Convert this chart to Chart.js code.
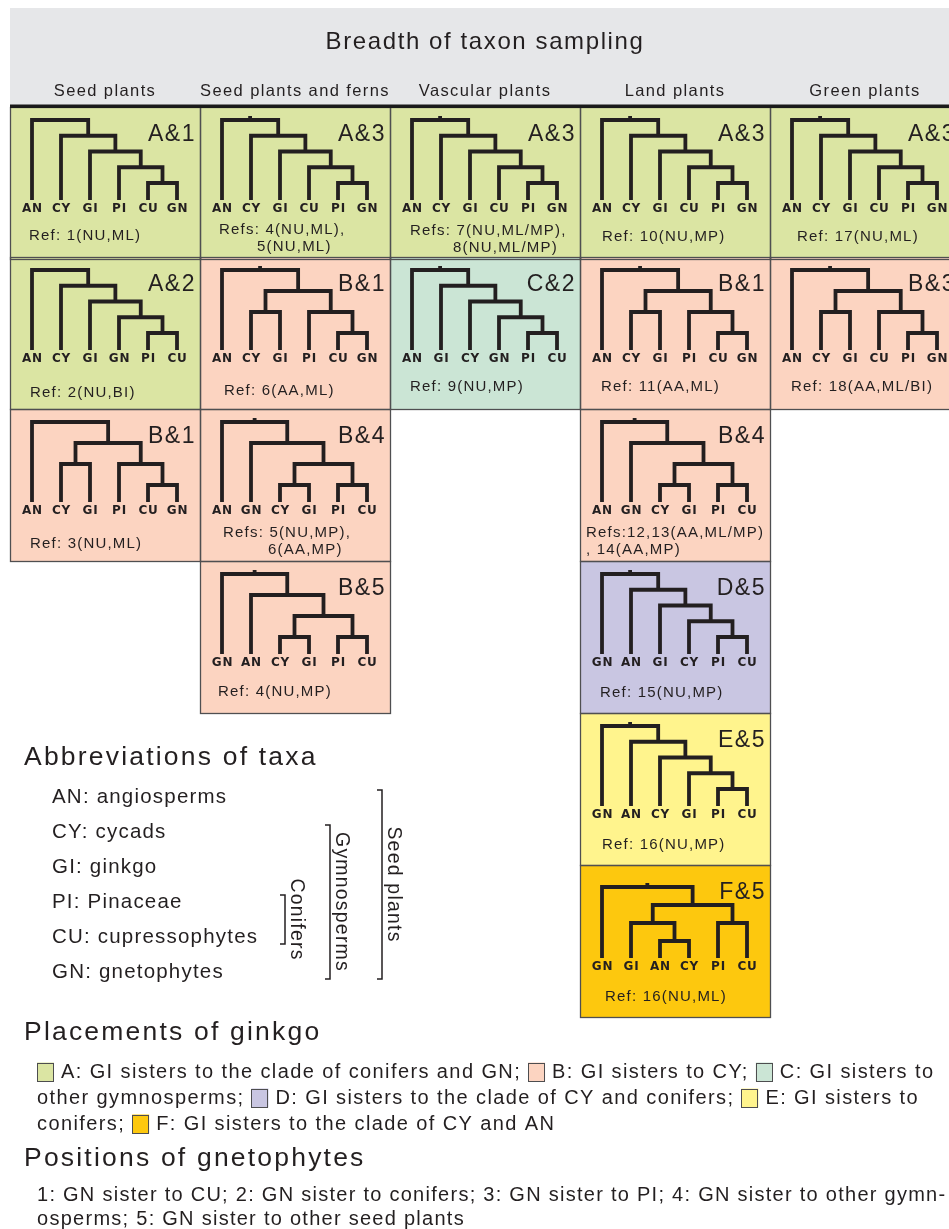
<!DOCTYPE html>
<html>
<head>
<meta charset="utf-8">
<script src="https://cdn.jsdelivr.net/npm/chart.js@4"></script>
<style>
  body { margin: 0; background: #fff; }
  canvas { display: block; }
</style>
</head>
<body>
<canvas id="chart" width="949" height="1229"></canvas>
<script>
// Data
const columns = ['Seed plants', 'Seed plants and ferns', 'Vascular plants', 'Land plants', 'Green plants'];

const taxa = ['AN', 'CY', 'GI', 'PI', 'CU', 'GN'];
const taxonNames = ['angiosperms', 'cycads', 'ginkgo', 'Pinaceae', 'cupressophytes', 'gnetophytes'];
const groupNames = ['Conifers', 'Gymnosperms', 'Seed plants'];
const groupFrom = [3, 1, 0];
const groupTo = [4, 5, 5];

const placementLetters = ['A', 'B', 'C', 'D', 'E', 'F'];
const placementTexts = [
  'GI sisters to the clade of conifers and GN;',
  'GI sisters to CY;',
  'GI sisters to other gymnosperms;',
  'GI sisters to the clade of CY and conifers;',
  'GI sisters to conifers;',
  'GI sisters to the clade of CY and AN'
];
const gnPositionLines = [
  '1: GN sister to CU; 2: GN sister to conifers; 3: GN sister to PI; 4: GN sister to other gymn-',
  'osperms; 5: GN sister to other seed plants'
];

// one entry per tree cell
const cellCol = [0, 0, 0, 1, 1, 1, 1, 2, 2, 3, 3, 3, 3, 3, 3, 4, 4];
const cellRow = [0, 1, 2, 0, 1, 2, 3, 0, 1, 0, 1, 2, 3, 4, 5, 0, 1];
const cellCodes = ['A&1', 'A&2', 'B&1', 'A&3', 'B&1', 'B&4', 'B&5', 'A&3', 'C&2',
                   'A&3', 'B&1', 'B&4', 'D&5', 'E&5', 'F&5', 'A&3', 'B&3'];
const cellTrees = [
  ['AN', ['CY', ['GI', ['PI', ['CU', 'GN']]]]],
  ['AN', ['CY', ['GI', ['GN', ['PI', 'CU']]]]],
  ['AN', [['CY', 'GI'], ['PI', ['CU', 'GN']]]],
  ['AN', ['CY', ['GI', ['CU', ['PI', 'GN']]]]],
  ['AN', [['CY', 'GI'], ['PI', ['CU', 'GN']]]],
  ['AN', ['GN', [['CY', 'GI'], ['PI', 'CU']]]],
  ['GN', ['AN', [['CY', 'GI'], ['PI', 'CU']]]],
  ['AN', ['CY', ['GI', ['CU', ['PI', 'GN']]]]],
  ['AN', ['GI', ['CY', ['GN', ['PI', 'CU']]]]],
  ['AN', ['CY', ['GI', ['CU', ['PI', 'GN']]]]],
  ['AN', [['CY', 'GI'], ['PI', ['CU', 'GN']]]],
  ['AN', ['GN', [['CY', 'GI'], ['PI', 'CU']]]],
  ['GN', ['AN', ['GI', ['CY', ['PI', 'CU']]]]],
  ['GN', ['AN', ['CY', ['GI', ['PI', 'CU']]]]],
  ['GN', [['GI', ['AN', 'CY']], ['PI', 'CU']]],
  ['AN', ['CY', ['GI', ['CU', ['PI', 'GN']]]]],
  ['AN', [['CY', 'GI'], ['CU', ['PI', 'GN']]]]
];
const cellRefs = [
  ['Ref: 1(NU,ML)'],
  ['Ref: 2(NU,BI)'],
  ['Ref: 3(NU,ML)'],
  ['Refs: 4(NU,ML),', '5(NU,ML)'],
  ['Ref: 6(AA,ML)'],
  ['Refs: 5(NU,MP),', '6(AA,MP)'],
  ['Ref: 4(NU,MP)'],
  ['Refs: 7(NU,ML/MP),', '8(NU,ML/MP)'],
  ['Ref: 9(NU,MP)'],
  ['Ref: 10(NU,MP)'],
  ['Ref: 11(AA,ML)'],
  ['Refs:12,13(AA,ML/MP)', ', 14(AA,MP)'],
  ['Ref: 15(NU,MP)'],
  ['Ref: 16(NU,MP)'],
  ['Ref: 16(NU,ML)'],
  ['Ref: 17(NU,ML)'],
  ['Ref: 18(AA,ML/BI)']
];

// layout / style
const placementColors = ['#dbe5a3', '#fcd4c1', '#cbe5d5', '#c9c6e2', '#fff48d', '#fdc80e'];
const colLeft = [10, 200, 390, 580, 770];
const rowTop = [107, 257, 409, 561, 713, 865];
const cellW = 190, cellH = 152;
const refX = [29, 30, 30, 219, 224, 223, 218, 410, 410, 602, 601, 586, 600, 602, 605, 797, 791];
const refY = [234, 391, 542, 228, 389, 531, 690, 229, 385, 235, 385, 531, 691, 843, 995, 235, 385];
const refX2 = [0, 0, 0, 257, 0, 268, 0, 453, 0, 0, 0, 586, 0, 0, 0, 0, 0];
const rootOffset = [13, 13, 13, 13, 13, 13, 13, 13, 13, 13, 13, 13, 13, 13, 22, 13, 13];
const groupX = [285, 330, 382];
const INK = '#231f20';
const FONT = '"Liberation Sans", Arial, sans-serif';

function cellColor(i) {
  return placementColors[placementLetters.indexOf(cellCodes[i][0])];
}

function internalDepth(t) {
  if (typeof t === 'string') return -1;
  return 1 + Math.max(internalDepth(t[0]), internalDepth(t[1]));
}

// builds line pieces and tip positions of a tree in figure units
function layoutTree(i) {
  const left = colLeft[cellCol[i]], top = rowTop[cellRow[i]];
  const tree = cellTrees[i];
  const r0 = rootOffset[i];
  const step = (76 - r0) / internalDepth(tree);
  const pieces = [], tips = [];
  let n = 0;
  function walk(t, d) {
    if (typeof t === 'string') {
      const p = { x: left + 22 + 29 * n++, y: top + 93 };
      tips.push({ name: t, x: p.x, y: top + 101 });
      return p;
    }
    const a = walk(t[0], d + 1), b = walk(t[1], d + 1);
    const y = top + r0 + d * step;
    pieces.push([{ x: a.x, y: a.y }, { x: a.x, y: y }, { x: b.x, y: y }, { x: b.x, y: b.y }]);
    return { x: (a.x + b.x) / 2, y: y };
  }
  const root = walk(tree, 0);
  if (cellCol[i] !== 0) pieces.push([{ x: root.x, y: root.y }, { x: root.x, y: root.y - 4 }]);
  return { pieces, tips };
}

const trees = cellTrees.map((t, i) => layoutTree(i));

const datasets = [];
trees.forEach(tr => tr.pieces.forEach(p => datasets.push({
  data: p,
  showLine: true,
  borderColor: INK,
  borderWidth: 3.8,
  borderJoinStyle: 'miter',
  borderCapStyle: 'butt',
  pointRadius: 0,
  tension: 0,
  fill: false
})));

function text(ctx, s, x, y, size, ls, align, weight, family) {
  ctx.save();
  ctx.font = (weight || '') + ' ' + size + 'px ' + (family || FONT);
  ctx.letterSpacing = ls + 'px';
  ctx.textAlign = align || 'left';
  ctx.textBaseline = 'middle';
  ctx.fillStyle = INK;
  ctx.fillText(s, x, y + 1.5);
  ctx.restore();
}

const figurePlugin = {
  id: 'figure',
  beforeDatasetsDraw(chart) {
    const ctx = chart.ctx;
    const X = v => chart.scales.x.getPixelForValue(v);
    const Y = v => chart.scales.y.getPixelForValue(v);
    ctx.save();
    // header band
    ctx.fillStyle = '#e6e7e9';
    ctx.fillRect(X(10), Y(8), X(949) - X(10), Y(106) - Y(8));
    // cells
    cellCodes.forEach((c, i) => {
      const l = colLeft[cellCol[i]], t = rowTop[cellRow[i]];
      ctx.fillStyle = cellColor(i);
      ctx.fillRect(X(l), Y(t), X(l + cellW) - X(l), Y(t + cellH) - Y(t));
    });
    ctx.strokeStyle = '#4f4f51';
    ctx.lineWidth = 1.3;
    cellCodes.forEach((c, i) => {
      const l = colLeft[cellCol[i]], t = rowTop[cellRow[i]];
      ctx.strokeRect(Math.round(X(l)) + 0.5, Math.round(Y(t)) + 0.5, X(l + cellW) - X(l), Y(t + cellH) - Y(t));
    });
    // thick rule under the header
    ctx.fillStyle = '#1a1a1a';
    ctx.fillRect(X(10), Y(104.5), X(949) - X(10), 3.5);
    ctx.restore();
  },
  afterDatasetsDraw(chart) {
    const ctx = chart.ctx;
    const X = v => chart.scales.x.getPixelForValue(v);
    const Y = v => chart.scales.y.getPixelForValue(v);

    text(ctx, 'Breadth of taxon sampling', X(485), Y(41), 24, 1.6, 'center');
    columns.forEach((c, j) => text(ctx, c, X(colLeft[j] + cellW / 2), Y(90), 16.5, 1.4, 'center'));

    trees.forEach((tr, i) => {
      const l = colLeft[cellCol[i]], t = rowTop[cellRow[i]];
      tr.tips.forEach(p => text(ctx, p.name, X(p.x + 0.5), Y(p.y - 1), 12, 0.8, 'center', 'bold', '"DejaVu Sans", sans-serif'));
      text(ctx, cellCodes[i], X(l + cellW - 4), Y(t + 26), 23, 1.5, 'right');
      text(ctx, cellRefs[i][0], X(refX[i]), Y(refY[i]), 15, 1.2, 'left');
      if (cellRefs[i][1]) text(ctx, cellRefs[i][1], X(refX2[i]), Y(refY[i] + 17.5), 15, 1.2, 'left');
    });

    // abbreviations
    text(ctx, 'Abbreviations of taxa', X(24), Y(756), 26.5, 2.2, 'left');
    const rowY = k => 796 + k * 35;
    taxa.forEach((a, k) => text(ctx, a + ': ' + taxonNames[k], X(52), Y(rowY(k)), 20.5, 1.2, 'left'));
    ctx.save();
    ctx.strokeStyle = INK;
    ctx.lineWidth = 1.5;
    groupNames.forEach((g, k) => {
      const y0 = rowY(groupFrom[k]) - 6, y1 = rowY(groupTo[k]) + 8, gx = groupX[k];
      ctx.beginPath();
      ctx.moveTo(X(gx - 5), Y(y0));
      ctx.lineTo(X(gx), Y(y0));
      ctx.lineTo(X(gx), Y(y1));
      ctx.lineTo(X(gx - 5), Y(y1));
      ctx.stroke();
      ctx.save();
      ctx.translate(X(gx + 11), Y((y0 + y1) / 2));
      ctx.rotate(Math.PI / 2);
      text(ctx, g, 0, -1.5, 19.5, 1.2, 'center');
      ctx.restore();
    });
    ctx.restore();

    // placements of ginkgo
    text(ctx, 'Placements of ginkgo', X(24), Y(1031), 26.5, 2.2, 'left');
    ctx.save();
    ctx.font = '20px ' + FONT;
    ctx.letterSpacing = '1.4px';
    let x = 37, line = 0;
    const maxX = 946, lineY = () => 1071 + line * 26;
    placementLetters.forEach((L, i) => {
      if (x + 17 > maxX) { line++; x = 37; }
      ctx.fillStyle = placementColors[i];
      ctx.fillRect(X(x), Y(lineY() - 8.5), 17, 19);
      ctx.strokeStyle = '#4d4d4f';
      ctx.lineWidth = 1;
      ctx.strokeRect(Math.round(X(x)) + 0.5, Math.round(Y(lineY() - 8.5)) + 0.5, 16, 18);
      x += 24;
      (L + ': ' + placementTexts[i]).split(' ').forEach(w => {
        const ww = ctx.measureText(w).width;
        if (x + ww > maxX) { line++; x = 37; }
        text(ctx, w, X(x), Y(lineY()), 20, 1.4, 'left');
        x += ctx.measureText(w + ' ').width;
      });
    });
    ctx.restore();

    // positions of gnetophytes
    text(ctx, 'Positions of gnetophytes', X(24), Y(1157), 26.5, 2.2, 'left');
    gnPositionLines.forEach((s, k) => text(ctx, s, X(37), Y(1194 + k * 24), 20, 1.27, 'left'));
  }
};

new Chart(document.getElementById('chart').getContext('2d'), {
  type: 'scatter',
  data: { datasets: datasets },
  options: {
    responsive: false,
    animation: false,
    events: [],
    layout: { padding: 0 },
    plugins: { legend: { display: false }, tooltip: { enabled: false } },
    scales: {
      x: { type: 'linear', min: 0, max: 949, display: false },
      y: { type: 'linear', min: 0, max: 1229, reverse: true, display: false }
    }
  },
  plugins: [figurePlugin]
});
</script>
</body>
</html>
